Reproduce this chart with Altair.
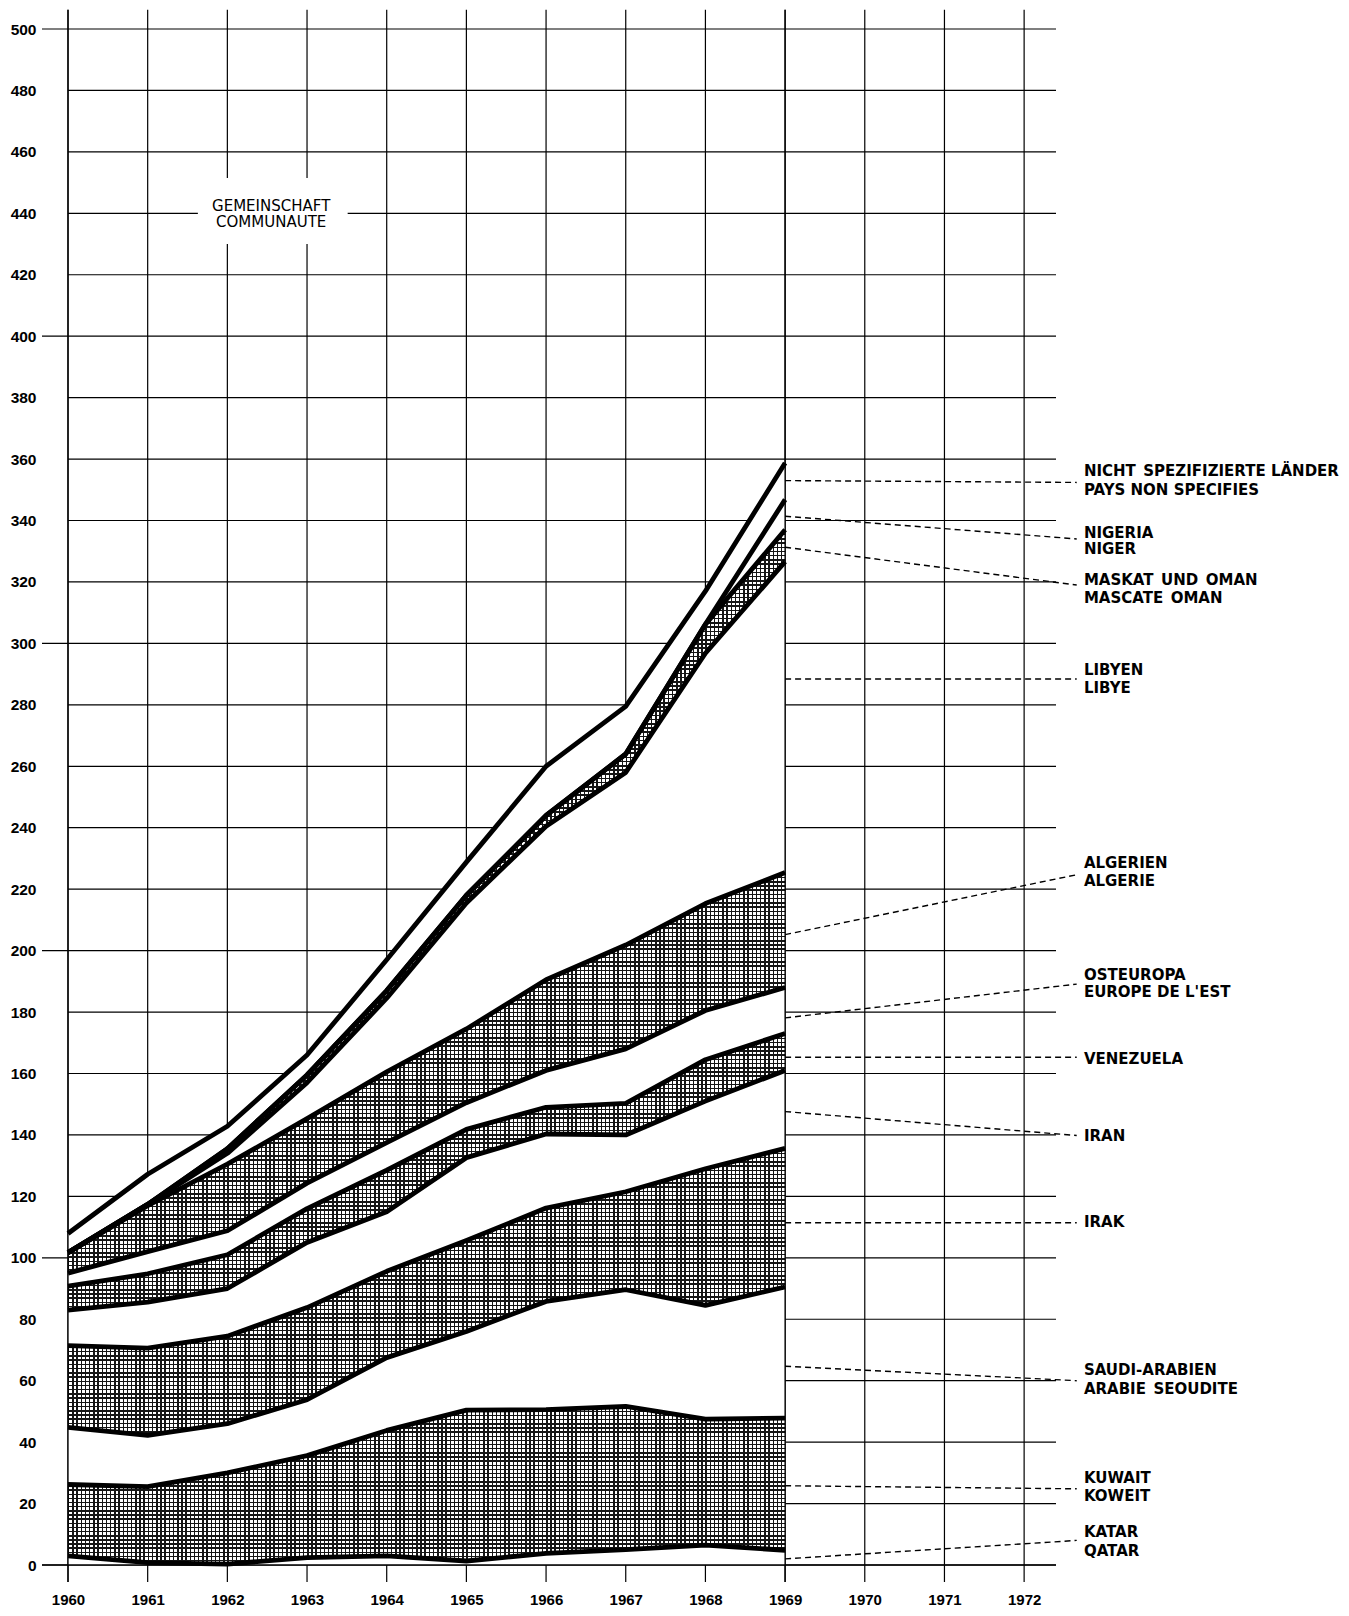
import altair as alt
import pandas as pd

# ---------------- data ----------------
years = list(range(1960, 1970))

katar      = [3.0, 0.8, 0.3, 2.4, 3.0, 1.3, 3.8, 5.0, 6.5, 4.8]
kuwait     = [23.2, 24.7, 29.7, 33.2, 40.8, 49.1, 46.8, 46.6, 41.0, 43.0]
saudi      = [18.6, 16.7, 16.0, 18.2, 23.7, 25.6, 35.2, 38.0, 37.0, 42.7]
irak       = [26.6, 28.4, 28.5, 30.0, 28.1, 29.6, 30.4, 31.9, 44.5, 45.1]
iran       = [11.6, 15.0, 15.5, 21.2, 19.4, 27.0, 24.1, 18.5, 22.0, 25.4]
venezuela  = [7.8, 9.2, 11.0, 11.0, 13.5, 9.2, 8.7, 10.3, 13.5, 12.0]
osteuropa  = [4.2, 7.2, 7.8, 8.3, 9.0, 8.7, 12.0, 17.7, 16.0, 15.0]
algerien   = [6.7, 15.0, 21.7, 21.0, 23.0, 24.0, 29.5, 33.8, 34.8, 37.4]
libyen     = [0.0, 0.4, 3.5, 11.7, 24.0, 41.0, 50.0, 56.2, 81.5, 101.2]
maskat     = [0.0, 0.0, 1.5, 2.5, 2.5, 2.5, 3.5, 6.0, 9.4, 10.4]
nigeria    = [0.0, 0.0, 0.0, 0.0, 0.0, 0.0, 0.0, 0.0, 0.0, 9.8]
nicht_spez = [6.2, 9.8, 7.3, 6.5, 10.0, 10.8, 16.0, 15.5, 10.8, 11.9]

countries = ["Katar", "Kuwait", "Saudi-Arabien", "Irak", "Iran", "Venezuela",
             "Osteuropa", "Algerien", "Libyen", "Maskat und Oman", "Nigeria",
             "Nicht spezifiziert"]
series = [katar, kuwait, saudi, irak, iran, venezuela, osteuropa, algerien,
          libyen, maskat, nigeria, nicht_spez]
hatched = ["Kuwait", "Irak", "Venezuela", "Algerien", "Maskat und Oman"]

y_ticks = list(range(0, 501, 20))
x_ticks = list(range(1960, 1973))

SP = "\u2002"
# right-hand labels (text line, y value of the line)
label_text = ["NICHT" + SP + "SPEZIFIZIERTE LÄNDER", "PAYS NON SPECIFIES",
              "NIGERIA", "NIGER",
              "MASKAT" + SP + "UND" + SP + "OMAN", "MASCATE" + SP + "OMAN",
              "LIBYEN", "LIBYE",
              "ALGERIEN", "ALGERIE",
              "OSTEUROPA", "EUROPE DE L'EST",
              "VENEZUELA",
              "IRAN",
              "IRAK",
              "SAUDI-ARABIEN", "ARABIE" + SP + "SEOUDITE",
              "KUWAIT", "KOWEIT",
              "KATAR", "QATAR"]
label_y = [356.1, 350.0, 336.0, 330.6, 320.6, 314.9, 291.4, 285.4,
           228.4, 222.7, 192.2, 186.5, 164.7, 139.8, 111.7,
           63.4, 57.3, 28.2, 22.5, 10.7, 4.7]
# dashed leaders: value at 1969 edge -> value at label
leader_from = [353.0, 341.4, 331.3, 288.4, 205.2, 178.1, 165.3, 147.6, 111.4, 64.7, 25.8, 2.0]
leader_to   = [352.4, 334.0, 319.0, 288.4, 224.7, 189.1, 165.3, 139.8, 111.4, 60.0, 24.8, 8.0]

box_text = ["GEMEINSCHAFT", "COMMUNAUTE"]

# ---------------- geometry / scales ----------------
W, H = 988, 1536
XMIN, XMAX = 1960, 1972.4
YMIN, YMAX = 0, 500
px_year = W / (XMAX - XMIN)
px_unit = H / (YMAX - YMIN)
X_LEFT_TICK = 1960 - 26 / px_year
X_LEADER_END = 1972.66
X_LABEL = 1972.75
Y_TOP = 506.3
Y_BOTTOM = -5.5

xs = alt.Scale(domain=[XMIN, XMAX], nice=False, zero=False)
ys = alt.Scale(domain=[YMIN, YMAX], nice=False, zero=False)
xaxis = alt.Axis(values=x_ticks, format="d", title=None, domain=False, ticks=False,
                 tickSize=0, grid=False, labelPadding=27, labelFlush=False,
                 labelFont="Liberation Sans", labelFontSize=15, labelFontWeight="bold",
                 labelColor="black")
yaxis = alt.Axis(values=y_ticks, format="d", title=None, domain=False, ticks=False,
                 tickSize=0, grid=False, labelPadding=32, labelFlush=False,
                 labelFont="Liberation Sans", labelFontSize=15.5, labelFontWeight="bold",
                 labelColor="black")


def X(f):
    return alt.X(f, type="quantitative", scale=xs, axis=xaxis)


def Y(f):
    return alt.Y(f, type="quantitative", scale=ys, axis=yaxis)


# ---------------- tables ----------------
rows = []
for yi, yr in enumerate(years):
    cum = 0.0
    for c, s in zip(countries, series):
        lo = cum
        cum = cum + s[yi]
        rows.append({"year": yr, "country": c, "lower": lo, "upper": round(cum, 3)})
df = pd.DataFrame(rows)
total = df[df.country == countries[-1]][["year", "upper"]]

hgrid = pd.DataFrame({"v": y_ticks,
                      "x1": [X_LEFT_TICK if v % 100 == 0 else 1960 for v in y_ticks],
                      "x2": [XMAX] * len(y_ticks)})
vgrid = pd.DataFrame({"yr": x_ticks, "y1": [Y_BOTTOM] * len(x_ticks), "y2": [Y_TOP] * len(x_ticks)})
edges = pd.DataFrame({"yr": [1960, 1969], "y1": [Y_BOTTOM] * 2, "y2": [Y_TOP] * 2})
zero = pd.DataFrame({"v": [0], "x1": [X_LEFT_TICK], "x2": [XMAX]})

labels = pd.DataFrame({"t": label_text, "y": label_y, "x": [X_LABEL] * len(label_text)})
leaders = pd.DataFrame({"x1": [1969.0] * len(leader_from), "x2": [X_LEADER_END] * len(leader_from),
                        "y1": leader_from, "y2": leader_to})
box = pd.DataFrame({"x1": [1961.63], "x2": [1963.51], "y1": [430.0], "y2": [451.5]})
boxlab = pd.DataFrame({"t": box_text, "x": [1962.55, 1962.55], "y": [442.4, 437.2]})

INK = "#151515"
CLEAR = "rgba(255,255,255,0)"
PITCH = 4.2
LINE = 1.5


def stripes(length_px, along_x):
    n = max(1, int(round(length_px / PITCH)))
    frac = LINE / PITCH
    stops = []
    for k in range(n):
        a = round(k / n, 6)
        b = round((k + frac) / n, 6)
        c = round((k + 1) / n, 6)
        stops += [alt.GradientStop(color=INK, offset=a), alt.GradientStop(color=INK, offset=b),
                  alt.GradientStop(color=CLEAR, offset=b), alt.GradientStop(color=CLEAR, offset=c)]
    if along_x:
        return alt.LinearGradient(gradient="linear", stops=stops, x1=0, x2=1, y1=0, y2=0)
    return alt.LinearGradient(gradient="linear", stops=stops, x1=0, x2=0, y1=0, y2=1)


# ---------------- layers ----------------
layers = []
layers.append(alt.Chart(hgrid).mark_rule(color="black", strokeWidth=1.2).encode(
    x=X("x1"), x2="x2", y=Y("v")))
layers.append(alt.Chart(vgrid).mark_rule(color="black", strokeWidth=1.2).encode(
    x=X("yr"), y=Y("y1"), y2="y2"))

# white body of the stack (hides the grid)
layers.append(alt.Chart(total).mark_area(fill="white", fillOpacity=1, interpolate="linear").encode(
    x=X("year"), y=Y("upper"), y2=alt.Y2(datum=0)))

for c in hatched:
    sub = df[df.country == c]
    wpx = (max(years) - min(years)) * px_year
    hpx = (sub.upper.max() - sub.lower.min()) * px_unit
    for g in (stripes(wpx, True), stripes(hpx, False)):
        layers.append(alt.Chart(sub).mark_area(fill=g, fillOpacity=1, interpolate="linear").encode(
            x=X("year"), y=Y("lower"), y2="upper"))

layers.append(alt.Chart(df).mark_line(color="black", strokeWidth=4.8, strokeJoin="round").encode(
    x=X("year"), y=Y("upper"), detail="country:N"))

layers.append(alt.Chart(edges).mark_rule(color="black", strokeWidth=1.3).encode(
    x=X("yr"), y=Y("y1"), y2="y2"))
layers.append(alt.Chart(zero).mark_rule(color="black", strokeWidth=1.3).encode(
    x=X("x1"), x2="x2", y=Y("v")))

layers.append(alt.Chart(leaders).mark_rule(color="black", strokeWidth=1.4, strokeDash=[6, 4]).encode(
    x=X("x1"), x2="x2", y=Y("y1"), y2="y2"))
layers.append(alt.Chart(labels).mark_text(align="left", baseline="middle", font="DejaVu Sans",
                                          fontSize=15, fontWeight="bold", color="black").encode(
    x=X("x"), y=Y("y"), text="t:N"))

layers.append(alt.Chart(box).mark_rect(fill="white").encode(
    x=X("x1"), x2="x2", y=Y("y1"), y2="y2"))
layers.append(alt.Chart(boxlab).mark_text(align="center", baseline="middle", font="DejaVu Sans",
                                          fontSize=15, color="black").encode(
    x=X("x"), y=Y("y"), text="t:N"))

chart = alt.layer(*layers).properties(
    width=W, height=H,
    autosize=alt.AutoSizeParams(type="none"),
    padding={"left": 60, "top": 21, "right": 285, "bottom": 43},
    background="white",
).configure_view(stroke=None)

chart.save("out.html", embed_options={"renderer": "svg", "actions": False})
